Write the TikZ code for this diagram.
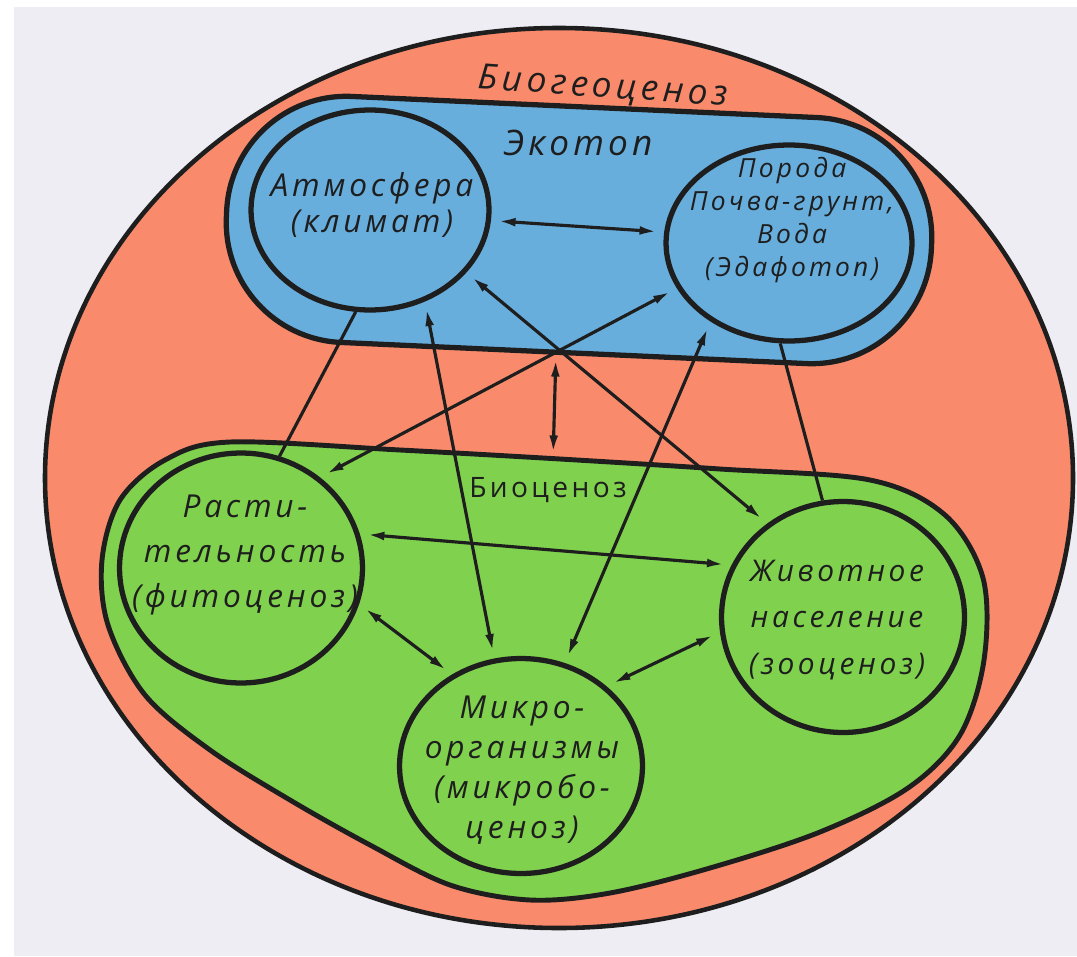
\documentclass[tikz,border=0pt]{standalone}
\usepackage{fontspec}
\setmainfont{Open Sans}
\newfontfamily\handfont{Open Sans}[LetterSpace=12]
\usetikzlibrary{positioning, arrows.meta, shapes.geometric}
\definecolor{paper}{HTML}{EEEDF3}
\definecolor{geo}{HTML}{F98B6C}
\definecolor{eco}{HTML}{68AEDD}
\definecolor{bio}{HTML}{80D24E}
\definecolor{ink}{HTML}{1E1E1E}

\begin{document}
\begin{tikzpicture}[
x=0.02cm, y=-0.02cm,
every node/.style={text=ink, align=center},
unit/.style={draw=ink, ellipse, line width=3pt, inner sep=0pt},
hand/.style={font=\handfont\itshape\fontsize{18}{22}\selectfont},
link/.style={draw=ink, line width=1.8pt,
  {Latex[length=10pt,width=5pt]}-{Latex[length=10pt,width=5pt]},
  shorten >=4pt, shorten <=4pt},
tie/.style={draw=ink, line width=1.8pt}
]
\useasboundingbox (0,0) rectangle (1077,956);
\fill[white] (0,0) rectangle (1077,956);
\fill[paper] (14,7) rectangle (1077,956);

% biogeocenosis, ecotope, biocenosis
\filldraw[fill=geo, draw=ink, line width=2.6pt] (559,478) ellipse [x radius=514, y radius=450];
\filldraw[fill=eco, draw=ink, line width=3pt, rounded corners=2.4cm]
  (232,91) -- (937,123) -- (926,369) -- (221,337) -- cycle;
\filldraw[fill=bio, draw=ink, line width=2.8pt] plot[smooth cycle, tension=0.55] coordinates {
  (230,442) (400,450) (560,459) (720,469) (870,480) (945,515) (983,578) (984,660)
  (960,735) (908,788) (820,832) (710,868) (610,893) (530,900) (450,885) (370,845)
  (290,800) (210,750) (145,695) (108,625) (102,560) (120,500) (165,460)};
\coordinate (ecobot) at (556,352);
\coordinate (biotop) at (553,460);

\node[unit, fill=eco, minimum width=4.76cm, minimum height=4cm] (atm) at (370,210) {};
\node[unit, fill=eco, minimum width=4.92cm, minimum height=3.92cm] (poroda) at (789,243) {};
\node[unit, fill=bio, minimum width=4.86cm, minimum height=4.6cm] (plant) at (241,568) {};
\node[unit, fill=bio, minimum width=4.86cm, minimum height=4.62cm] (animal) at (843,617) {};
\node[unit, fill=bio, minimum width=4.86cm, minimum height=4.3cm] (micro) at (521,766) {};

\node[hand, font=\handfont\itshape\fontsize{20}{24}\selectfont, rotate=-4] (geotxt) at (603,88) {Биогеоценоз};
\node[hand, font=\handfont\itshape\fontsize{20}{24}\selectfont] (ecotxt) at (578,143) {Экотоп};
\node[font=\handfont\fontsize{16}{18}\selectfont] (biotxt) at (548,490) {Биоценоз};
\node[hand, font=\handfont\itshape\fontsize{18}{20.5}\selectfont] (atmtxt) at (372,205) {Атмосфера\\(климат)};
\node[hand, font=\handfont\itshape\fontsize{15}{18.7}\selectfont] (porodatxt) at (792,220) {Порода\\Почва-грунт,\\Вода\\(Эдафотоп)};
\node[hand, font=\handfont\itshape\fontsize{18}{25.5}\selectfont] (planttxt) at (245,555) {Расти-\\тельность\\(фитоценоз)};
\node[hand, font=\handfont\itshape\fontsize{17}{26.6}\selectfont] (animaltxt) at (837,620) {Животное\\население\\(зооценоз)};
\node[hand, font=\handfont\itshape\fontsize{18}{22.7}\selectfont] (microtxt) at (522,770) {Микро-\\организмы\\(микробо-\\ценоз)};

\foreach \a/\b in {atm.-5/poroda.175, atm.-59/micro.104, atm.-33/animal.129,
  poroda.202/plant.49, poroda.225/micro.67, plant.16/animal.155,
  plant.-17/micro.127, animal.187/micro.43, ecobot/biotop}
\draw[link] (\a) -- (\b);
\foreach \a/\b in {atm.262/plant.71, poroda.265/animal.100}
\draw[tie] (\a) -- (\b);
\end{tikzpicture}
\end{document}
